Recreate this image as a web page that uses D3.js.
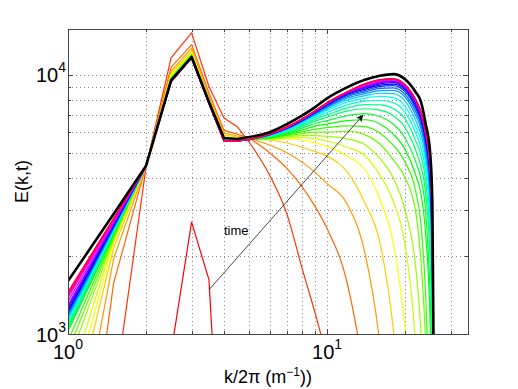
<!DOCTYPE html>
<html>
<head>
<meta charset="utf-8">
<script src="https://cdn.jsdelivr.net/npm/d3@7"></script>
<style>
  body { margin: 0; background: #fff; }
  svg { display: block; }
  text { font-family: "Liberation Sans", Arial, Helvetica, sans-serif; fill: #000; }
</style>
</head>
<body>
<div id="chart"></div>
<script>
// wavenumbers k/2pi where the spectra are sampled
const kValues = [1, 1.5, 2, 2.5, 3, 3.5, 4, 4.5, 5, 6, 7, 8, 9, 10, 12, 14, 16, 18, 20, 22, 23, 24, 25, 25.5, 26];

// E(k,t) for successive times, first to last (null = not drawn)
const spectra = [
    [null, null, null, 850, 2700, 1620, 156, null, null, null, null, null, null, null, null, null, null, null, null, null, null, null, null, null, null],
    [30, 560, 4400, 11600, 14500, 9000, 6800, 6300, 5500, 4100, 2900, 1800, 1200, 800, 300, null, null, null, null, null, null, null, null, null, null],
    [80, 1570, 4450, 10670, 13060, 8500, 6100, 5900, 5700, 5000, 4350, 3700, 3100, 2550, 1550, 650, 200, null, null, null, null, null, null, null, null],
    [230, 1950, 4450, 10300, 12650, 8250, 5950, 5800, 5700, 5350, 5000, 4600, 4200, 3800, 3150, 2050, 900, 200, null, null, null, null, null, null, null],
    [400, 2150, 4450, 10100, 12350, 8100, 5850, 5750, 5700, 5600, 5450, 5250, 5050, 4850, 4200, 3200, 2250, 1050, 300, null, null, null, null, null, null],
    [510, 2250, 4450, 9950, 12150, 8000, 5800, 5700, 5700, 5650, 5650, 5600, 5450, 5300, 4850, 4300, 3300, 2250, 1050, 300, null, null, null, null, null],
    [630, 2300, 4450, 9850, 12050, 7950, 5750, 5680, 5650, 5620, 5700, 5720, 5650, 5550, 5250, 4870, 4100, 3250, 2200, 850, 300, null, null, null, null],
    [770, 2330, 4450, 9780, 11980, 7920, 5720, 5660, 5650, 5650, 5750, 5820, 5820, 5780, 5650, 5370, 4750, 4000, 3000, 1800, 1050, 400, null, null, null],
    [860, 2360, 4450, 9720, 11920, 7900, 5700, 5650, 5650, 5680, 5800, 5920, 6000, 6000, 6050, 5870, 5400, 4700, 4000, 2950, 1950, 950, 300, null, null],
    [940, 2390, 4450, 9670, 11870, 7880, 5680, 5640, 5650, 5700, 5850, 6020, 6170, 6250, 6350, 6300, 5950, 5350, 4600, 3550, 2700, 1450, 500, null, null],
    [1025, 2420, 4450, 9630, 11830, 7860, 5660, 5630, 5650, 5720, 5900, 6120, 6330, 6450, 6650, 6700, 6450, 5900, 5150, 4100, 3500, 2450, 1100, 400, null],
    [1045, 2440, 4450, 9600, 11800, 7850, 5640, 5620, 5650, 5740, 5950, 6220, 6480, 6650, 6950, 7070, 6900, 6450, 5700, 4600, 4000, 3000, 1400, 700, null],
    [1065, 2460, 4450, 9580, 11770, 7840, 5630, 5610, 5650, 5760, 6000, 6320, 6620, 6850, 7250, 7390, 7300, 6950, 6250, 5100, 4450, 3500, 1900, 900, 200],
    [1090, 2480, 4450, 9560, 11750, 7830, 5620, 5610, 5650, 5780, 6050, 6400, 6740, 7000, 7450, 7660, 7650, 7400, 6750, 5550, 4900, 3900, 2300, 1100, 300],
    [1110, 2500, 4450, 9540, 11730, 7820, 5610, 5600, 5650, 5800, 6100, 6460, 6840, 7150, 7650, 7900, 7950, 7800, 7150, 5950, 5250, 4250, 2650, 1250, 300],
    [1130, 2520, 4450, 9520, 11710, 7810, 5600, 5600, 5650, 5820, 6130, 6520, 6920, 7280, 7850, 8120, 8250, 8150, 7550, 6300, 5600, 4550, 2950, 1400, 300],
    [1150, 2540, 4450, 9450, 11690, 7800, 5590, 5550, 5620, 5840, 6160, 6560, 6990, 7380, 8000, 8300, 8480, 8450, 7900, 6650, 5900, 4850, 3200, 1550, 300],
    [1170, 2560, 4450, 9450, 11670, 7790, 5580, 5550, 5620, 5850, 6180, 6600, 7050, 7470, 8130, 8450, 8680, 8700, 8200, 6950, 6200, 5100, 3450, 1700, 300],
    [1190, 2580, 4450, 9450, 11650, 7780, 5570, 5550, 5620, 5860, 6200, 6630, 7100, 7540, 8240, 8580, 8850, 8900, 8400, 7200, 6450, 5300, 3650, 1800, 300],
    [1210, 2595, 4450, 9450, 11630, 7770, 5560, 5550, 5620, 5870, 6210, 6650, 7140, 7600, 8330, 8690, 8990, 9070, 8600, 7400, 6650, 5500, 3850, 1900, 300],
    [1227, 2610, 4450, 9400, 11600, 7750, 5550, 5550, 5620, 5880, 6220, 6670, 7170, 7650, 8400, 8790, 9110, 9200, 8750, 7550, 6800, 5650, 4000, 2000, 300],
    [1250, 2630, 4450, 9400, 11600, 7750, 5550, 5550, 5620, 5885, 6230, 6690, 7190, 7690, 8460, 8880, 9210, 9310, 8850, 7700, 6900, 5750, 4100, 2100, 300],
    [1270, 2650, 4450, 9400, 11600, 7750, 5550, 5550, 5620, 5890, 6240, 6700, 7210, 7720, 8500, 8950, 9290, 9400, 8930, 7800, 7000, 5850, 4200, 2200, 300],
    [1294, 2670, 4450, 9400, 11600, 7750, 5550, 5550, 5620, 5890, 6250, 6710, 7220, 7740, 8530, 9010, 9360, 9470, 9000, 7870, 7080, 5920, 4280, 2300, 300],
    [1335, 2700, 4450, 9400, 11600, 7750, 5550, 5550, 5620, 5895, 6260, 6720, 7230, 7760, 8550, 9070, 9420, 9530, 9050, 7920, 7130, 5970, 4340, 2350, 300],
    [1377, 2735, 4450, 9400, 11600, 7750, 5550, 5550, 5620, 5895, 6270, 6730, 7240, 7770, 8570, 9120, 9470, 9570, 9090, 7950, 7170, 6000, 4380, 2400, 300],
    [1395, 2750, 4450, 9400, 11600, 7750, 5550, 5550, 5620, 5900, 6280, 6740, 7250, 7780, 8580, 9160, 9510, 9600, 9110, 7970, 7200, 6020, 4420, 2450, 300],
    [1415, 2765, 4450, 9400, 11600, 7750, 5550, 5550, 5620, 5900, 6290, 6745, 7255, 7790, 8590, 9190, 9540, 9620, 9130, 7990, 7220, 6030, 4450, 2500, 300],
    [1435, 2780, 4450, 9400, 11600, 7750, 5550, 5550, 5620, 5900, 6300, 6750, 7260, 7795, 8595, 9220, 9560, 9640, 9140, 8000, 7240, 6040, 4480, 2550, 300],
    [1452, 2795, 4450, 9400, 11600, 7750, 5550, 5550, 5620, 5900, 6300, 6750, 7260, 7800, 8600, 9230, 9580, 9650, 9150, 8000, 7250, 6050, 4500, 2600, 300]
];

// thick black curve drawn on top
const finalSpectrum = [1600, 2900, 4450, 9500, 11700, 7850, 5700, 5650, 5750, 6000, 6450, 6950, 7500, 8100, 8950, 9550, 9900, 10050, 9600, 8550, 7900, 6500, 5000, 3200, 300];

const xDomain = [1, 35];
const yDomain = [1000, 15000];
const xMajorTicks = [1, 10];
const xMinorTicks = [2, 3, 4, 5, 6, 7, 8, 9, 20, 30];
const yMajorTicks = [1000, 10000];
const yMinorTicks = [2000, 3000, 4000, 5000, 6000, 7000, 8000, 9000];

// "time" annotation, in data coordinates
const arrowTail = [3.5, 1480];
const arrowHead = [13.8, 7000];
const timeLabelPos = [4, 2400];

// below this k the sampled points are joined straight, above it smoothly
const smoothFromK = 5;

const margin = { top: 29, right: 50, bottom: 55, left: 68 };
const width = 518 - margin.left - margin.right;
const height = 389 - margin.top - margin.bottom;

const svg = d3.select("#chart")
    .append("svg")
    .attr("width", 518)
    .attr("height", 389);

const defs = svg.append("defs");
defs.append("clipPath").attr("id", "plot-clip")
    .append("rect").attr("width", width).attr("height", height);
defs.append("marker")
    .attr("id", "arrowhead")
    .attr("viewBox", "0 0 10 10")
    .attr("refX", 10).attr("refY", 5)
    .attr("markerWidth", 9).attr("markerHeight", 7)
    .attr("markerUnits", "userSpaceOnUse")
    .attr("orient", "auto")
    .append("path")
    .attr("d", "M0,0L10,5L0,10L2.5,5Z")
    .attr("fill", "#111");

const g = svg.append("g")
    .attr("transform", `translate(${margin.left},${margin.top})`);

const x = d3.scaleLog().domain(xDomain).range([0, width]);
const y = d3.scaleLog().domain(yDomain).range([height, 0]);

const px = v => Math.round(x(v)) + 0.5;
const py = v => Math.round(y(v)) + 0.5;

// dotted grid
const grid = g.append("g")
    .attr("stroke", "#8a8a8a")
    .attr("stroke-width", 1)
    .attr("stroke-dasharray", "1,3")
    .attr("shape-rendering", "crispEdges");

grid.selectAll(".gx")
    .data(xMinorTicks.concat(xMajorTicks.filter(d => d > xDomain[0])))
    .join("line")
    .attr("x1", d => px(d)).attr("x2", d => px(d))
    .attr("y1", 0).attr("y2", height);

grid.selectAll(".gy")
    .data(yMinorTicks.concat(yMajorTicks.filter(d => d > yDomain[0])))
    .join("line")
    .attr("x1", 0).attr("x2", width)
    .attr("y1", d => py(d)).attr("y2", d => py(d));

// spectra
const lineSharp = d3.line()
    .defined(d => d[1] != null)
    .x(d => x(d[0]))
    .y(d => y(d[1]));

const lineSmooth = d3.line()
    .defined(d => d[1] != null)
    .curve(d3.curveMonotoneX)
    .x(d => x(d[0]))
    .y(d => y(d[1]));

function spectrumPath(values) {
    const pts = kValues.map((k, j) => [k, values[j]]);
    const a = lineSharp(pts.filter(d => d[0] <= smoothFromK)) || "";
    const b = lineSmooth(pts.filter(d => d[0] >= smoothFromK)) || "";
    return a + b;
}

const curves = g.append("g").attr("clip-path", "url(#plot-clip)");

spectra.forEach((s, i) => {
    curves.append("path")
        .attr("fill", "none")
        .attr("stroke", d3.hsl(i * 360 / spectra.length, 1, 0.5))
        .attr("stroke-width", 1.2)
        .attr("stroke-linejoin", "round")
        .attr("d", spectrumPath(s));
});

curves.append("path")
    .attr("fill", "none")
    .attr("stroke", "#000")
    .attr("stroke-width", 2.6)
    .attr("stroke-linejoin", "round")
    .attr("stroke-linecap", "round")
    .attr("d", spectrumPath(finalSpectrum));

// box and inward ticks
const axes = g.append("g")
    .attr("stroke", "#444")
    .attr("stroke-width", 1)
    .attr("shape-rendering", "crispEdges");

axes.append("rect")
    .attr("x", 0.5).attr("y", 0.5)
    .attr("width", width).attr("height", height)
    .attr("fill", "none");

const xTicks = xMajorTicks.map(d => [d, 5]).concat(xMinorTicks.map(d => [d, 3]));
const yTicks = yMajorTicks.map(d => [d, 5]).concat(yMinorTicks.map(d => [d, 3]));

xTicks.forEach(([v, len]) => {
    axes.append("line").attr("x1", px(v)).attr("x2", px(v)).attr("y1", height).attr("y2", height - len);
    axes.append("line").attr("x1", px(v)).attr("x2", px(v)).attr("y1", 0).attr("y2", len);
});
yTicks.forEach(([v, len]) => {
    axes.append("line").attr("y1", py(v)).attr("y2", py(v)).attr("x1", 0).attr("x2", len);
    axes.append("line").attr("y1", py(v)).attr("y2", py(v)).attr("x1", width).attr("x2", width - len);
});

// tick labels as 10^n
xMajorTicks.forEach(v => {
    const t = g.append("text")
        .attr("x", x(v))
        .attr("y", height + 25)
        .attr("text-anchor", "middle")
        .attr("font-size", 20);
    t.append("tspan").text("10");
    t.append("tspan").attr("dy", -10).attr("font-size", 14).text(Math.round(Math.log10(v)));
});

yMajorTicks.forEach(v => {
    const t = g.append("text")
        .attr("x", -2)
        .attr("y", y(v) + 7.5)
        .attr("text-anchor", "end")
        .attr("font-size", 20);
    t.append("tspan").text("10");
    t.append("tspan").attr("dy", -10).attr("font-size", 14).text(Math.round(Math.log10(v)));
});

// axis labels
const xLabel = g.append("text")
    .attr("x", width / 2)
    .attr("y", height + 49)
    .attr("text-anchor", "middle")
    .attr("font-size", 18);
xLabel.append("tspan").text("k/2\u03c0 (m");
xLabel.append("tspan").attr("dy", -7).attr("font-size", 12).text("\u22121");
xLabel.append("tspan").attr("dy", 7).text("))");

g.append("text")
    .attr("transform", `translate(${28 - margin.left},${height / 2}) rotate(-90)`)
    .attr("text-anchor", "middle")
    .attr("font-size", 18)
    .text("E(k,t)");

// time arrow
g.append("line")
    .attr("x1", x(arrowTail[0])).attr("y1", y(arrowTail[1]))
    .attr("x2", x(arrowHead[0])).attr("y2", y(arrowHead[1]))
    .attr("stroke", "#333")
    .attr("stroke-width", 0.9)
    .attr("marker-end", "url(#arrowhead)");

g.append("text")
    .attr("x", x(timeLabelPos[0]))
    .attr("y", y(timeLabelPos[1]))
    .attr("font-size", 13)
    .text("time");
</script>
</body>
</html>
